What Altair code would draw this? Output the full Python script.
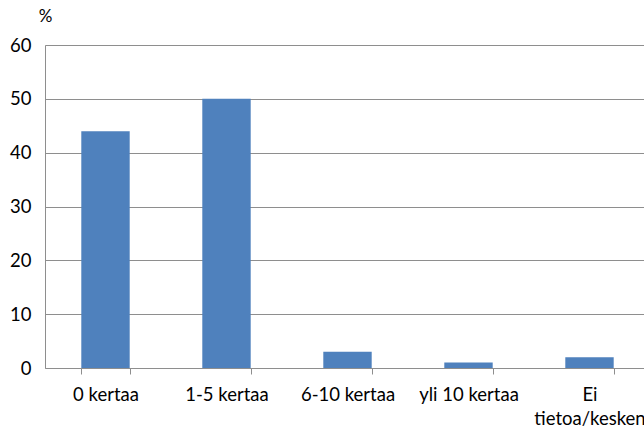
import altair as alt
import pandas as pd

# Share of respondents by number of times
categories = ["0 kertaa", "1-5 kertaa", "6-10 kertaa", "yli 10 kertaa", "Ei tietoa/kesken"]
values = [44, 50, 3, 1, 2]
y_ticks = [0, 10, 20, 30, 40, 50, 60]

df = pd.DataFrame({"kategoria": categories, "osuus": values})

FONT = "Lato"
GRID = "#8e8e8e"

chart = (
    alt.Chart(df)
    .mark_bar(color="#4F81BD")
    .encode(
        x=alt.X(
            "kategoria:N",
            sort=categories,
            scale=alt.Scale(range=[0, 605], paddingInner=0.6, paddingOuter=0.3),
            axis=alt.Axis(
                title=None,
                labelAngle=0,
                labelFont=FONT,
                labelFontSize=18.5,
                labelColor="#000000",
                labelPadding=11,
                labelLineHeight=24,
                labelBaseline="top",
                labelExpr="datum.label == 'Ei tietoa/kesken' ? ['Ei', 'tietoa/kesken'] : datum.label",
                tickBand="extent",
                tickColor=GRID,
                tickSize=6,
                domainColor=GRID,
                grid=False,
            ),
        ),
        y=alt.Y(
            "osuus:Q",
            scale=alt.Scale(domain=[0, 60]),
            axis=alt.Axis(
                values=y_ticks,
                title="%",
                titleAngle=0,
                titleX=0,
                titleY=-20,
                titleAlign="center",
                titleBaseline="bottom",
                titleFont=FONT,
                titleFontSize=17,
                titleFontWeight="normal",
                titleColor="#000000",
                labelFont=FONT,
                labelFontSize=18.5,
                labelColor="#000000",
                labelPadding=14,
                ticks=False,
                domainColor=GRID,
                gridColor=GRID,
                gridOpacity=1,
            ),
        ),
    )
    .properties(
        width=599,
        height=323,
        autosize=alt.AutoSizeParams(type="none"),
        padding={"left": 45, "top": 45, "right": 0, "bottom": 58},
    )
    .configure_view(stroke=None)
    .configure(background="#ffffff")
)

chart.save("out.html", embed_options={"renderer": "svg", "actions": False})
